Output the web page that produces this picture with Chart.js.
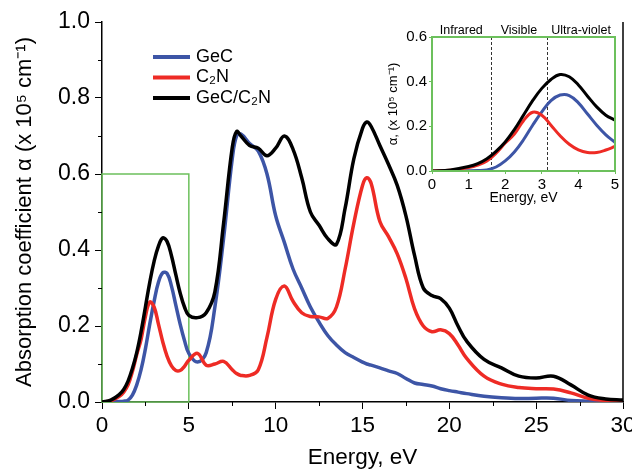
<!DOCTYPE html>
<html>
<head>
<meta charset="utf-8">
<script src="https://cdn.jsdelivr.net/npm/chart.js@4"></script>
<style>
  body { margin: 0; background: #fff; }
  #wrap { position: relative; width: 632px; height: 469px; }
  #main { position: absolute; left: 0; top: 0; }
  #inset { position: absolute; left: 380px; top: 18px; }
</style>
</head>
<body>
<div id="wrap">
  <canvas id="main" width="632" height="469"></canvas>
  <canvas id="inset" width="252" height="200"></canvas>
</div>
<script>
// photon energy, eV
const energy = [0, 0.5, 1, 1.25, 1.5, 1.75, 2, 2.25, 2.5, 2.75, 3, 3.25, 3.5, 3.75, 4, 4.25, 4.5, 4.75, 5,
  5.5, 6, 6.5, 7, 7.5, 7.75, 8, 8.5, 9, 9.5, 10, 10.5, 11, 11.5, 12, 12.5, 13, 13.5, 14, 14.5, 15, 15.25,
  15.5, 16, 16.5, 17, 17.5, 18, 18.5, 19, 19.5, 20, 20.5, 21, 22, 23, 24, 25, 26, 27, 28, 29, 30];

// absorption coefficient (x 10^5 cm^-1)
const gec = [0, 0, 0.001, 0.002, 0.005, 0.018, 0.045, 0.085, 0.14, 0.205, 0.265, 0.315, 0.34, 0.338, 0.305, 0.255, 0.205, 0.162, 0.128,
  0.105, 0.13, 0.25, 0.43, 0.64, 0.7, 0.705, 0.68, 0.66, 0.6, 0.49, 0.42, 0.35, 0.3, 0.25, 0.21, 0.175, 0.15, 0.13, 0.117, 0.105, 0.1,
  0.097, 0.09, 0.082, 0.075, 0.062, 0.05, 0.046, 0.042, 0.035, 0.03, 0.026, 0.022, 0.015, 0.011, 0.009, 0.01, 0.01, 0.004, 0.002, 0.001, 0];

const c2n = [0, 0.003, 0.015, 0.026, 0.045, 0.08, 0.125, 0.165, 0.225, 0.263, 0.25, 0.205, 0.158, 0.12, 0.095, 0.083, 0.083, 0.094, 0.11,
  0.128, 0.097, 0.1, 0.107, 0.085, 0.075, 0.07, 0.07, 0.085, 0.17, 0.27, 0.305, 0.265, 0.235, 0.225, 0.224, 0.22, 0.25, 0.35, 0.47, 0.57, 0.59,
  0.575, 0.475, 0.435, 0.39, 0.325, 0.245, 0.2, 0.185, 0.19, 0.18, 0.15, 0.115, 0.068, 0.047, 0.038, 0.035, 0.034, 0.024, 0.01, 0.004, 0.002];

const gecC2n = [0, 0.005, 0.02, 0.033, 0.055, 0.088, 0.13, 0.185, 0.25, 0.315, 0.37, 0.41, 0.432, 0.422, 0.385, 0.335, 0.287, 0.25, 0.228,
  0.222, 0.235, 0.29, 0.47, 0.67, 0.712, 0.7, 0.675, 0.668, 0.648, 0.668, 0.7, 0.665, 0.59, 0.5, 0.465, 0.43, 0.415, 0.51, 0.64, 0.72, 0.737,
  0.725, 0.675, 0.625, 0.57, 0.49, 0.385, 0.3, 0.28, 0.272, 0.247, 0.2, 0.16, 0.112, 0.09, 0.068, 0.063, 0.068, 0.045, 0.018, 0.008, 0.005];

const seriesNames = ["GeC", "C₂N", "GeC/C₂N"];
const seriesColors = ["#3d55a6", "#ee2b25", "#000000"];

// spectral regions shown in the inset
const bandEdges = [1.6, 3.15];
const bandNames = ["Infrared", "Visible", "Ultra-violet"];

const FONT = "'Liberation Sans', Arial, sans-serif";
const GREEN = "#6cc05c";

function points(vals, maxE) {
  return energy.map((e, i) => ({ x: e, y: vals[i] })).filter(p => p.x <= maxE);
}

function makeSets(maxE, width) {
  // black on top, blue at the bottom
  const values = [gec, c2n, gecC2n];
  return [2, 1, 0].map(i => ({
    label: seriesNames[i],
    data: points(values[i], maxE),
    borderColor: seriesColors[i],
    borderWidth: width,
    pointRadius: 0,
    fill: false,
    tension: 0.4
  }));
}

const mainDecor = {
  id: "mainDecor",
  beforeDatasetsDraw(chart) {
    const { ctx, scales: { x, y } } = chart;
    ctx.save();
    ctx.strokeStyle = GREEN;
    ctx.lineWidth = 1.5;
    ctx.strokeRect(x.getPixelForValue(0), y.getPixelForValue(0.6),
      x.getPixelForValue(5) - x.getPixelForValue(0), y.getPixelForValue(0) - y.getPixelForValue(0.6));
    ctx.restore();
  },
  afterDraw(chart) {
    const { ctx, chartArea: a, scales: { x, y } } = chart;
    ctx.save();
    ctx.strokeStyle = "#000";
    ctx.lineWidth = 1.5;
    ctx.beginPath();
    ctx.moveTo(a.right, a.top);
    ctx.lineTo(a.right, a.bottom);
    ctx.stroke();
    // minor ticks
    ctx.lineWidth = 1;
    ctx.beginPath();
    for (let v = 0.1; v < 1; v += 0.2) {
      const py = Math.round(y.getPixelForValue(v)) + 0.5;
      ctx.moveTo(a.left - 4, py);
      ctx.lineTo(a.left, py);
    }
    for (let v = 2.5; v < 30; v += 5) {
      const px = Math.round(x.getPixelForValue(v)) + 0.5;
      ctx.moveTo(px, a.bottom);
      ctx.lineTo(px, a.bottom + 4);
    }
    ctx.stroke();
    // legend
    ctx.font = "18px " + FONT;
    ctx.textBaseline = "middle";
    ctx.fillStyle = "#000";
    seriesNames.forEach((name, i) => {
      const ly = a.top + 35 + i * 20.5;
      ctx.strokeStyle = seriesColors[i];
      ctx.lineWidth = 4;
      ctx.beginPath();
      ctx.moveTo(a.left + 51, ly);
      ctx.lineTo(a.left + 88, ly);
      ctx.stroke();
      ctx.fillText(name, a.left + 94, ly);
    });
    ctx.restore();
  }
};

new Chart(document.getElementById("main"), {
  type: "line",
  data: { datasets: makeSets(30, 3.5) },
  options: {
    responsive: false,
    animation: false,
    layout: { padding: { top: 22, right: 9, left: 0, bottom: 0 } },
    plugins: { legend: { display: false }, tooltip: { enabled: false } },
    scales: {
      x: {
        type: "linear", min: 0, max: 30,
        ticks: { stepSize: 5, color: "#000", padding: 3, maxRotation: 0, font: { family: FONT, size: 22.5 } },
        grid: { drawOnChartArea: false, tickLength: 7, color: "#000" },
        border: { color: "#000", width: 1.5 },
        title: { display: true, text: "Energy, eV", color: "#000", padding: { top: 0, bottom: 0 },
          font: { family: FONT, size: 22.5, lineHeight: 1 } },
        afterFit: s => { s.height = 67; s.paddingLeft = 0; s.paddingRight = 0; }
      },
      y: {
        min: 0, max: 1,
        ticks: { stepSize: 0.2, color: "#000", padding: 5, callback: v => v.toFixed(1), font: { family: FONT, size: 23 } },
        grid: { drawOnChartArea: false, tickLength: 7, color: "#000" },
        border: { color: "#000", width: 1.5 },
        title: { display: true, text: "Absorption coefficient α (x 10⁵ cm⁻¹)", color: "#000", padding: { top: 14, bottom: 0 },
          font: { family: FONT, size: 22, lineHeight: 1 } },
        afterFit: s => { s.width = 102; s.paddingTop = 0; s.paddingBottom = 0; }
      }
    }
  },
  plugins: [mainDecor]
});

const insetDecor = {
  id: "insetDecor",
  beforeDatasetsDraw(chart) {
    const { ctx, chartArea: a, scales: { x } } = chart;
    ctx.save();
    ctx.strokeStyle = "#333";
    ctx.lineWidth = 1;
    ctx.setLineDash([3, 2]);
    bandEdges.forEach(e => {
      const px = Math.round(x.getPixelForValue(e)) + 0.5;
      ctx.beginPath();
      ctx.moveTo(px, a.top);
      ctx.lineTo(px, a.bottom);
      ctx.stroke();
    });
    ctx.restore();
  },
  afterDraw(chart) {
    const { ctx, chartArea: a, scales: { x } } = chart;
    ctx.save();
    ctx.strokeStyle = GREEN;
    ctx.lineWidth = 2;
    ctx.strokeRect(a.left, a.top, a.right - a.left, a.bottom - a.top);
    const edges = [x.min, ...bandEdges, x.max];
    ctx.font = "12.5px " + FONT;
    ctx.fillStyle = "#000";
    ctx.textAlign = "center";
    ctx.textBaseline = "middle";
    bandNames.forEach((name, i) => {
      ctx.fillText(name, x.getPixelForValue((edges[i] + edges[i + 1]) / 2), a.top - 6);
    });
    ctx.restore();
  }
};

new Chart(document.getElementById("inset"), {
  type: "line",
  data: { datasets: makeSets(5, 3) },
  options: {
    responsive: false,
    animation: false,
    layout: { padding: { top: 19, right: 17, left: 0, bottom: 0 } },
    plugins: { legend: { display: false }, tooltip: { enabled: false } },
    scales: {
      x: {
        type: "linear", min: 0, max: 5,
        ticks: { stepSize: 1, color: "#000", padding: 2, maxRotation: 0, font: { family: FONT, size: 15 } },
        grid: { drawOnChartArea: false, tickLength: 3, color: GREEN },
        border: { color: GREEN, width: 2 },
        title: { display: true, text: "Energy, eV", color: "#000", padding: { top: 0, bottom: 13 },
          font: { family: FONT, size: 14, lineHeight: 1 } },
        afterFit: s => { s.height = 47; s.paddingLeft = 0; s.paddingRight = 0; }
      },
      y: {
        min: 0, max: 0.6,
        ticks: { stepSize: 0.2, color: "#000", padding: 2, callback: v => v.toFixed(1), font: { family: FONT, size: 15 } },
        grid: { drawOnChartArea: false, tickLength: 3, color: GREEN },
        border: { color: GREEN, width: 2 },
        title: { display: true, text: "α, (x 10⁵ cm⁻¹)", color: "#000", padding: { top: 6.5, bottom: 0 },
          font: { family: FONT, size: 13, lineHeight: 1 } },
        afterFit: s => { s.width = 52; s.paddingTop = 0; s.paddingBottom = 0; }
      }
    }
  },
  plugins: [insetDecor]
});
</script>
</body>
</html>
